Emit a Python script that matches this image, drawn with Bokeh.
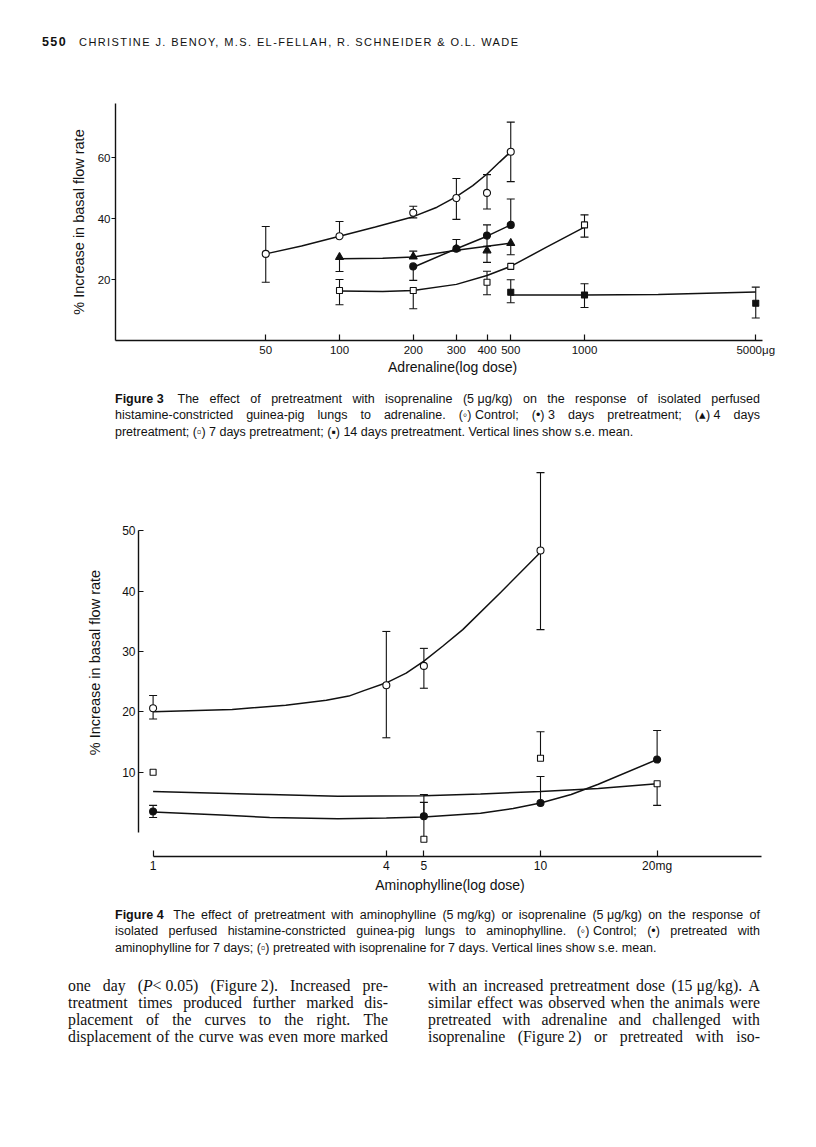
import numpy as np
from bokeh.plotting import figure
from bokeh.models import Range1d, FixedTicker, Div
from bokeh.layouts import column
from bokeh.embed import file_html
from bokeh.resources import INLINE

# ---------------- Figure 3: response to adrenaline (ug) ----------------
fig3_x_ticks = [50, 100, 200, 300, 400, 500, 1000, 5000]
fig3_x_tick_labels = ["50", "100", "200", "300", "400", "500", "1000", "5000μg"]
fig3_y_ticks = [20, 40, 60]

f3_control_dose = [50, 100, 200, 300, 400, 500]
f3_control_mean = [28.4, 34.2, 41.9, 46.7, 48.4, 61.9]
f3_control_hi = [37.4, 39.0, 44.0, 53.1, 54.4, 71.6]
f3_control_lo = [19.1, 34.2, 40.2, 39.7, 43.1, 52.1]
f3_control_fit_dose = [50, 70, 100, 140, 200, 250, 300, 350, 400, 450, 500]
f3_control_fit = [28.4, 31.0, 34.2, 37.2, 40.6, 43.7, 47.2, 50.8, 54.6, 58.5, 61.9]

f3_day3_dose = [200, 300, 400, 500]
f3_day3_mean = [24.3, 30.1, 34.4, 37.9]
f3_day3_hi = [24.3, 33.1, 37.9, 46.4]
f3_day3_lo = [19.7, 30.1, 30.9, 37.9]
f3_day3_fit_dose = [200, 300, 400, 500]
f3_day3_fit = [24.0, 30.1, 34.2, 37.9]

f3_day4_dose = [100, 200, 300, 400, 500]
f3_day4_mean = [27.3, 27.5, 30.1, 29.5, 31.9]
f3_day4_hi = [27.3, 29.3, 30.1, 29.5, 31.9]
f3_day4_lo = [22.6, 27.5, 30.1, 25.6, 28.1]
f3_day4_fit_dose = [100, 150, 200, 300, 400, 500]
f3_day4_fit = [26.8, 27.0, 27.4, 29.6, 30.9, 31.9]

f3_day7_dose = [100, 200, 400, 500, 1000]
f3_day7_mean = [16.4, 16.4, 19.1, 24.3, 37.9]
f3_day7_hi = [20.0, 16.4, 22.7, 24.3, 41.2]
f3_day7_lo = [11.7, 10.4, 15.0, 24.3, 33.9]
f3_day7_fit_dose = [100, 150, 200, 300, 400, 500, 700, 1000]
f3_day7_fit = [16.2, 16.1, 16.4, 18.4, 21.3, 24.3, 30.6, 37.2]

f3_day14_dose = [500, 1000, 5000]
f3_day14_mean = [15.8, 14.9, 12.2]
f3_day14_hi = [19.9, 18.6, 17.5]
f3_day14_lo = [12.4, 10.8, 7.4]
f3_day14_fit_dose = [500, 1000, 2000, 5000]
f3_day14_fit = [14.9, 14.9, 15.1, 15.9]

# ---------------- Figure 4: response to aminophylline (mg) ----------------
fig4_x_ticks = [1, 4, 5, 10, 20]
fig4_x_tick_labels = ["1", "4", "5", "10", "20mg"]
fig4_y_ticks = [10, 20, 30, 40, 50]

f4_control_dose = [1, 4, 5, 10]
f4_control_mean = [20.6, 24.4, 27.6, 46.7]
f4_control_hi = [22.7, 33.3, 30.5, 59.6]
f4_control_lo = [18.8, 15.7, 23.9, 33.6]
f4_control_fit_dose = [1, 1.6, 2.2, 2.8, 3.2, 3.5, 4, 4.5, 5, 5.6, 6.3, 7.9, 10]
f4_control_fit = [20.0, 20.4, 21.1, 21.9, 22.6, 23.5, 24.8, 26.4, 28.4, 30.9, 33.6, 39.8, 46.4]

f4_amino_dose = [1, 5, 10, 20]
f4_amino_mean = [3.5, 2.7, 4.9, 12.1]
f4_amino_hi = [4.5, 6.3, 9.3, 16.9]
f4_amino_lo = [2.5, 2.7, 4.9, 12.1]
f4_amino_fit_dose = [1, 1.5, 2, 3, 4, 5, 7, 8.5, 10, 12, 14.1, 20]
f4_amino_fit = [3.4, 2.9, 2.5, 2.3, 2.4, 2.6, 3.2, 4.0, 4.9, 6.3, 8.0, 12.1]

f4_iso_dose = [1, 5, 10, 20]
f4_iso_mean = [10.0, -1.1, 12.3, 8.1]
f4_iso_hi = [10.0, 5.0, 16.7, 8.1]
f4_iso_lo = [10.0, -1.1, 12.3, 4.5]
f4_iso_fit_dose = [1, 2, 3, 5, 7, 10, 14.1, 20]
f4_iso_fit = [6.8, 6.3, 6.0, 6.1, 6.4, 6.8, 7.3, 8.1]

# ---------------- texts ----------------
header_num = "550"
header_text = "CHRISTINE J. BENOY, M.S. EL-FELLAH, R. SCHNEIDER &amp; O.L. WADE"
fig3_xlabel = "Adrenaline(log dose)"
fig4_xlabel = "Aminophylline(log dose)"
ylabel = "% Increase in basal flow rate"
caption3 = [
    "<b>Figure\u00a03</b>\u00a0 The effect of pretreatment with isoprenaline (5\u00a0μg/kg) on the response of isolated perfused",
    "histamine-constricted guinea-pig lungs to adrenaline. (\u25e6)\u00a0Control; (\u2022)\u00a03 days pretreatment; (\u25b4)\u00a04 days",
    "pretreatment; (\u25ab) 7 days pretreatment; (\u25aa) 14 days pretreatment. Vertical lines show s.e. mean.",
]
caption4 = [
    "<b>Figure\u00a04</b>\u00a0 The effect of pretreatment with aminophylline (5\u00a0mg/kg) or isoprenaline (5\u00a0μg/kg) on the response of",
    "isolated perfused histamine-constricted guinea-pig lungs to aminophylline. (\u25e6)\u00a0Control; (\u2022) pretreated with",
    "aminophylline for 7 days; (\u25ab) pretreated with isoprenaline for 7 days. Vertical lines show s.e. mean.",
]
body_left = [
    "one day (<i>P</i>&lt;\u00a00.05) (Figure\u00a02). Increased pre-",
    "treatment times produced further marked dis-",
    "placement of the curves to the right. The",
    "displacement of the curve was even more marked",
]
body_right = [
    "with an increased pretreatment dose (15\u00a0μg/kg). A",
    "similar effect was observed when the animals were",
    "pretreated with adrenaline and challenged with",
    "isoprenaline (Figure\u00a02) or pretreated with iso-",
]

FONT = "Liberation Sans"
SANS = "'Liberation Sans',Arial,sans-serif"
SERIF = "'Liberation Serif','Times New Roman',serif"
INK = "#111111"
W = 816

# ---------------- page geometry (px on the page; Bokeh page has no body margin) ----------------
F3 = dict(page_top=70, height=315, left=115, right=762, top=103, bottom=340, x100=339, ppd=245.0, ppu=3.05)
F4 = dict(page_top=462, height=438, left=138, right=761, top=468, bottom=856, x1=152.6, ppd=387.4,
          y0=832.1, ppu=6.04)


def f3x(px):
    return 10 ** (2 + (px - F3["x100"]) / F3["ppd"])


def f3y(py):
    return (F3["bottom"] - py) / F3["ppu"]


def f4x(px):
    return 10 ** ((px - F4["x1"]) / F4["ppd"])


def f4y(py):
    return (F4["y0"] - py) / F4["ppu"]


def make_fig(G, xr, yr):
    p = figure(width=W, height=G["height"], x_axis_type="log",
               x_range=Range1d(*xr), y_range=Range1d(*yr),
               output_backend="svg", toolbar_location=None,
               min_border_left=G["left"], min_border_right=W - G["right"],
               min_border_top=G["top"] - G["page_top"],
               min_border_bottom=G["page_top"] + G["height"] - G["bottom"])
    try:
        p.frame_align = False
    except AttributeError:
        pass
    p.title.visible = False
    p.grid.grid_line_color = None
    p.outline_line_color = None
    p.background_fill_color = "white"
    p.border_fill_color = "white"
    for ax in (p.xaxis[0], p.yaxis[0]):
        ax.axis_line_color = INK
        ax.axis_line_width = 1.4
        ax.major_tick_line_color = INK
        ax.major_tick_line_width = 1.2
        ax.minor_tick_line_color = None
        ax.major_label_text_font = FONT
        ax.major_label_text_color = INK
        ax.axis_label_text_font = FONT
        ax.axis_label_text_font_style = "normal"
        ax.axis_label_text_color = INK
    return p


def draw_series(p, dose, mean, hi, lo, fit_dose, fit, marker, fill, size):
    p.line(fit_dose, fit, line_color=INK, line_width=1.5)
    p.segment(x0=dose, y0=lo, x1=dose, y1=hi, line_color=INK, line_width=1.1)
    hx = [d for d, m, h in zip(dose, mean, hi) if h > m]
    hy = [h for d, m, h in zip(dose, mean, hi) if h > m]
    lx = [d for d, m, l in zip(dose, mean, lo) if l < m]
    ly = [l for d, m, l in zip(dose, mean, lo) if l < m]
    p.scatter(hx + lx, hy + ly, marker="dash", size=8, line_color=INK, line_width=1.1)
    p.scatter(dose, mean, marker=marker, size=size, fill_color=fill, line_color=INK, line_width=1.1)


# ---------------- Figure 3 ----------------
p3 = make_fig(F3, (f3x(F3["left"]), f3x(F3["right"])), (0, f3y(F3["top"])))
p3.xaxis.ticker = FixedTicker(ticks=fig3_x_ticks)
p3.xaxis.major_label_overrides = {t: l for t, l in zip(fig3_x_ticks, fig3_x_tick_labels)}
p3.xaxis.major_tick_in = 6
p3.xaxis.major_tick_out = 0
p3.xaxis.major_label_standoff = 3
p3.xaxis.major_label_text_font_size = "11.5px"
p3.xaxis.axis_label = "\u00a0" * 7 + fig3_xlabel
p3.xaxis.axis_label_text_font_size = "14px"
p3.xaxis.axis_label_standoff = 0
p3.yaxis.ticker = FixedTicker(ticks=fig3_y_ticks)
p3.yaxis.major_tick_in = 0
p3.yaxis.major_tick_out = 4
p3.yaxis.major_label_standoff = 1
p3.yaxis.major_label_text_font_size = "11.5px"
p3.yaxis.axis_label = ylabel
p3.yaxis.axis_label_text_font_size = "14.5px"
p3.yaxis.axis_label_standoff = 8

draw_series(p3, f3_control_dose, f3_control_mean, f3_control_hi, f3_control_lo,
            f3_control_fit_dose, f3_control_fit, "circle", "white", 7)
draw_series(p3, f3_day7_dose, f3_day7_mean, f3_day7_hi, f3_day7_lo,
            f3_day7_fit_dose, f3_day7_fit, "square", "white", 6)
draw_series(p3, f3_day14_dose, f3_day14_mean, f3_day14_hi, f3_day14_lo,
            f3_day14_fit_dose, f3_day14_fit, "square", INK, 6)
draw_series(p3, f3_day4_dose, f3_day4_mean, f3_day4_hi, f3_day4_lo,
            f3_day4_fit_dose, f3_day4_fit, "triangle", INK, 8)
draw_series(p3, f3_day3_dose, f3_day3_mean, f3_day3_hi, f3_day3_lo,
            f3_day3_fit_dose, f3_day3_fit, "circle", INK, 7)

# ---------------- Figure 4 ----------------
p4 = make_fig(F4, (f4x(F4["left"]), f4x(F4["right"])), (f4y(F4["bottom"]), f4y(F4["top"])))
p4.xaxis.ticker = FixedTicker(ticks=fig4_x_ticks)
p4.xaxis.major_label_overrides = {t: l for t, l in zip(fig4_x_ticks, fig4_x_tick_labels)}
p4.xaxis.bounds = (1, f4x(F4["right"]))
p4.xaxis.major_tick_in = 6
p4.xaxis.major_tick_out = 0
p4.xaxis.major_label_standoff = 2
p4.xaxis.major_label_text_font_size = "12px"
p4.xaxis.axis_label = fig4_xlabel
p4.xaxis.axis_label_text_font_size = "14px"
p4.xaxis.axis_label_standoff = 1
p4.yaxis.ticker = FixedTicker(ticks=fig4_y_ticks)
p4.yaxis.bounds = (0, 50)
p4.yaxis.major_tick_in = 5
p4.yaxis.major_tick_out = 0
p4.yaxis.major_label_standoff = 3
p4.yaxis.major_label_text_font_size = "12px"
p4.yaxis.axis_label = ylabel
p4.yaxis.axis_label_text_font_size = "14.5px"
p4.yaxis.axis_label_standoff = 16

draw_series(p4, f4_control_dose, f4_control_mean, f4_control_hi, f4_control_lo,
            f4_control_fit_dose, f4_control_fit, "circle", "white", 7)
draw_series(p4, f4_iso_dose, f4_iso_mean, f4_iso_hi, f4_iso_lo,
            f4_iso_fit_dose, f4_iso_fit, "square", "white", 6)
draw_series(p4, f4_amino_dose, f4_amino_mean, f4_amino_hi, f4_amino_lo,
            f4_amino_fit_dose, f4_amino_fit, "circle", INK, 7)


# ---------------- text blocks ----------------
def justified(line, lh):
    spans = "".join(f"<span>{tok}</span>" for tok in line.split(" "))
    return (f'<div style="display:flex;justify-content:space-between;white-space:nowrap;'
            f'height:{lh}px;line-height:{lh}px;">{spans}</div>')


def ragged(line, lh):
    return f'<div style="white-space:nowrap;height:{lh}px;line-height:{lh}px;">{line}</div>'


def block(lines, last_ragged, left, top, width, font, size, lh):
    inner = "".join(ragged(l, lh) if (last_ragged and i == len(lines) - 1) else justified(l, lh)
                    for i, l in enumerate(lines))
    return (f'<div style="position:absolute;left:{left}px;top:{top}px;width:{width}px;'
            f'font-family:{font};font-size:{size}px;color:{INK};">{inner}</div>')


def wrap(inner, h):
    return f'<div style="position:relative;width:{W}px;height:{h}px;overflow:hidden;">{inner}</div>'


H_HEAD, H_CAP3, H_CAP4, H_BODY = 70, 77, 65, 180

head_html = wrap(
    f'<div style="position:absolute;left:42px;top:35px;font-family:{SANS};font-size:11px;'
    f'letter-spacing:1.4px;line-height:14px;white-space:nowrap;color:{INK};">'
    f'<b style="font-size:12.5px;">{header_num}</b><span style="margin-left:12px;">{header_text}</span></div>',
    H_HEAD)
cap3_html = wrap(block(caption3, True, 115, 5.75, 645, SANS, 12.5, 16.5), H_CAP3)
cap4_html = wrap(block(caption4, True, 115, 6.75, 645, SANS, 12.5, 16.5), H_CAP4)
body_html = wrap(block(body_left, False, 68, 11.5, 320, SERIF, 15.8, 17)
                 + block(body_right, False, 428, 11.5, 332, SERIF, 15.8, 17), H_BODY)


def mk_div(html, h):
    return Div(text=html, width=W, height=h, margin=0)


layout = column(mk_div(head_html, H_HEAD), p3, mk_div(cap3_html, H_CAP3), p4,
                mk_div(cap4_html, H_CAP4), mk_div(body_html, H_BODY), spacing=0)

open("out.html", "w").write(file_html(layout, INLINE))
